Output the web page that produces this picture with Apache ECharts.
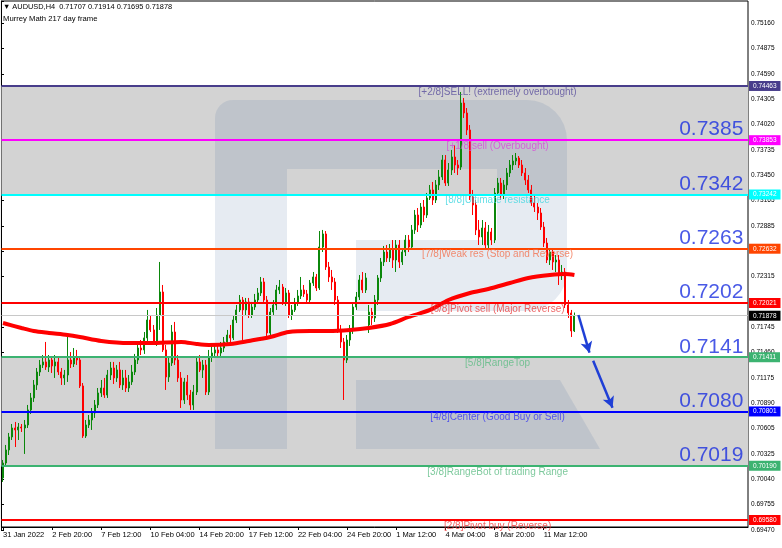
<!DOCTYPE html>
<html><head><meta charset="utf-8">
<script src="https://cdn.jsdelivr.net/npm/echarts/dist/echarts.min.js"></script>
<style>html,body{margin:0;padding:0;background:#fff}#c{width:782px;height:548px}</style>
</head><body><div id="c"></div>
<script>
const tickLabels = ['31 Jan 2022','2 Feb 20:00','7 Feb 12:00','10 Feb 04:00','14 Feb 20:00','17 Feb 12:00','22 Feb 04:00','24 Feb 20:00','1 Mar 12:00','4 Mar 04:00','8 Mar 20:00','11 Mar 12:00'];
const priceTicks = [0.69470,0.69755,0.70040,0.70325,0.70605,0.70890,0.71175,0.71460,0.71745,0.72030,0.72315,0.72600,0.72885,0.73165,0.73450,0.73735,0.74020,0.74305,0.74590,0.74875,0.75160];
// [open, close, low, high]
const candles = [
[0.70053,0.70221,0.70008,0.70255],[0.70221,0.70368,0.70188,0.70424],[0.70368,0.70514,0.70311,0.70559],[0.70514,0.70615,0.70480,0.70660],
[0.70615,0.70593,0.70401,0.70683],[0.70593,0.70626,0.70480,0.70671],[0.70626,0.70615,0.70570,0.70660],[0.70615,0.70649,0.70323,0.70705],
[0.70649,0.70818,0.70615,0.70874],[0.70818,0.70953,0.70773,0.71009],[0.70953,0.71099,0.70908,0.71155],[0.71099,0.71245,0.71043,0.71290],
[0.71245,0.71324,0.71200,0.71380],[0.71324,0.71358,0.71290,0.71436],[0.71358,0.71301,0.71268,0.71583],[0.71301,0.71380,0.71245,0.71436],
[0.71380,0.71313,0.71234,0.71425],[0.71313,0.71358,0.71178,0.71436],[0.71358,0.71245,0.71211,0.71403],[0.71245,0.71178,0.71099,0.71290],
[0.71178,0.71211,0.71099,0.71268],[0.71211,0.71380,0.71133,0.71673],[0.71380,0.71335,0.71290,0.71470],[0.71335,0.71414,0.71301,0.71515],
[0.71414,0.71380,0.71324,0.71493],[0.71380,0.71088,0.71065,0.71414],[0.71088,0.70525,0.70503,0.71121],[0.70525,0.70649,0.70503,0.70705],
[0.70649,0.70705,0.70615,0.70761],[0.70705,0.70784,0.70593,0.70840],[0.70784,0.70874,0.70728,0.70930],[0.70874,0.71009,0.70840,0.71065],
[0.71009,0.71065,0.70964,0.71155],[0.71065,0.70986,0.70953,0.71178],[0.70986,0.71211,0.70953,0.71268],[0.71211,0.71290,0.71155,0.71358],
[0.71290,0.71178,0.71110,0.71358],[0.71178,0.71268,0.71133,0.71324],[0.71268,0.71099,0.71065,0.71358],[0.71099,0.71178,0.71043,0.71268],
[0.71178,0.71065,0.71020,0.71268],[0.71065,0.71133,0.71020,0.71211],[0.71133,0.71245,0.71099,0.71324],[0.71245,0.71380,0.71211,0.71448],
[0.71380,0.71515,0.71335,0.71549],[0.71515,0.71493,0.71436,0.71605],[0.71493,0.71628,0.71448,0.71695],[0.71628,0.71830,0.71583,0.71943],
[0.71830,0.71718,0.71695,0.71886],[0.71718,0.71583,0.71549,0.71774],[0.71583,0.71886,0.71538,0.71965],[0.71886,0.72145,0.71718,0.72483],
[0.72145,0.71493,0.71470,0.72224],[0.71493,0.71189,0.71043,0.71549],[0.71189,0.71346,0.71133,0.71403],[0.71346,0.71695,0.71313,0.71774],
[0.71695,0.71380,0.71324,0.71808],[0.71380,0.71178,0.71133,0.71436],[0.71178,0.70930,0.70840,0.71245],[0.70930,0.71133,0.70885,0.71178],
[0.71133,0.70986,0.70930,0.71211],[0.70986,0.70874,0.70818,0.71043],[0.70874,0.71020,0.70818,0.71099],[0.71020,0.71358,0.70986,0.71403],
[0.71358,0.71268,0.71245,0.71436],[0.71268,0.71324,0.71178,0.71380],[0.71324,0.71020,0.70986,0.71380],[0.71020,0.71414,0.70986,0.71493],
[0.71414,0.71459,0.71358,0.71549],[0.71459,0.71493,0.71402,0.71571],[0.71493,0.71459,0.71414,0.71549],[0.71459,0.71515,0.71425,0.71583],
[0.71515,0.71583,0.71470,0.71639],[0.71583,0.71661,0.71549,0.71718],[0.71661,0.71628,0.71549,0.71774],[0.71628,0.71830,0.71605,0.71886],
[0.71830,0.71943,0.71796,0.71999],[0.71943,0.72055,0.71920,0.72111],[0.72055,0.71943,0.71605,0.72089],[0.71943,0.72033,0.71886,0.72078],
[0.72033,0.71886,0.71853,0.72078],[0.71886,0.71976,0.71853,0.72033],[0.71976,0.72055,0.71943,0.72123],[0.72055,0.72134,0.72021,0.72190],
[0.72134,0.72258,0.72100,0.72314],[0.72258,0.72055,0.72033,0.72303],[0.72055,0.71684,0.71650,0.72100],[0.71684,0.71920,0.71650,0.71965],
[0.71920,0.71999,0.71875,0.72055],[0.71999,0.72168,0.71943,0.72224],[0.72168,0.72201,0.72123,0.72280],[0.72201,0.72033,0.71999,0.72235],
[0.72033,0.72134,0.71988,0.72190],[0.72134,0.71886,0.71853,0.72168],[0.71886,0.71943,0.71830,0.71999],[0.71943,0.72021,0.71920,0.72078],
[0.72021,0.72100,0.71988,0.72168],[0.72100,0.72168,0.72066,0.72314],[0.72168,0.72123,0.72089,0.72224],[0.72123,0.72055,0.72021,0.72168],
[0.72055,0.72246,0.72021,0.72280],[0.72246,0.72314,0.72213,0.72370],[0.72314,0.72190,0.72156,0.72348],[0.72190,0.72651,0.72168,0.72831],
[0.72651,0.72798,0.72595,0.72843],[0.72798,0.72426,0.72393,0.72831],[0.72426,0.72314,0.72258,0.72483],[0.72314,0.72258,0.72168,0.72393],
[0.72258,0.72055,0.71999,0.72303],[0.72055,0.71718,0.71684,0.72100],[0.71718,0.71583,0.71515,0.71774],[0.71583,0.71380,0.70930,0.71628],
[0.71380,0.71605,0.71346,0.71661],[0.71605,0.71718,0.71538,0.71774],[0.71718,0.71976,0.71673,0.72021],[0.71976,0.72089,0.71943,0.72145],
[0.72089,0.72280,0.72055,0.72336],[0.72280,0.72168,0.72134,0.72370],[0.72168,0.72303,0.72134,0.72359],[0.71774,0.71920,0.71684,0.71999],
[0.71920,0.71853,0.71774,0.71965],[0.71853,0.72055,0.71808,0.72111],[0.72055,0.72303,0.71999,0.72336],[0.72303,0.72483,0.72258,0.72528],
[0.72483,0.72595,0.72438,0.72663],[0.72595,0.72528,0.72483,0.72674],[0.72528,0.72618,0.72483,0.72685],[0.72618,0.72505,0.72415,0.72730],
[0.72505,0.72674,0.72370,0.72730],[0.72674,0.72483,0.72415,0.72730],[0.72483,0.72595,0.72449,0.72640],[0.72595,0.72730,0.72550,0.72786],
[0.72730,0.72651,0.72595,0.72786],[0.72651,0.72843,0.72618,0.72899],[0.72843,0.73011,0.72798,0.73068],[0.73011,0.72899,0.72820,0.73090],
[0.72899,0.73101,0.72865,0.73146],[0.73101,0.73011,0.72933,0.73180],[0.73011,0.73203,0.72978,0.73259],[0.73203,0.73293,0.73180,0.73349],
[0.73293,0.73180,0.73124,0.73383],[0.73180,0.73349,0.73146,0.73405],[0.73349,0.73439,0.73293,0.73518],[0.73439,0.73630,0.73405,0.73686],
[0.73630,0.73371,0.73338,0.73686],[0.73371,0.73518,0.73338,0.73596],[0.73518,0.73664,0.73461,0.73743],[0.73664,0.73574,0.73484,0.73799],
[0.73574,0.73540,0.73461,0.73630],[0.73551,0.74271,0.73518,0.74395],[0.74271,0.74159,0.74103,0.74328],[0.74159,0.73968,0.73911,0.74215],
[0.73968,0.73214,0.73180,0.74024],[0.73214,0.73124,0.73011,0.73293],[0.73124,0.72843,0.72786,0.73180],[0.72843,0.72764,0.72674,0.72955],
[0.72764,0.72865,0.72674,0.72955],[0.72865,0.72674,0.72618,0.72933],[0.72674,0.72820,0.72640,0.72899],[0.72820,0.72730,0.72674,0.72865],
[0.72730,0.73259,0.72696,0.73315],[0.73259,0.73371,0.73225,0.73428],[0.73371,0.73236,0.73180,0.73428],[0.73236,0.73349,0.73191,0.73405],
[0.73349,0.73484,0.73293,0.73540],[0.73484,0.73574,0.73439,0.73630],[0.73574,0.73619,0.73518,0.73686],[0.73619,0.73652,0.73574,0.73709],
[0.73652,0.73574,0.73540,0.73675],[0.73574,0.73484,0.73450,0.73630],[0.73484,0.73405,0.73349,0.73540],[0.73405,0.73293,0.73259,0.73461],
[0.73293,0.73146,0.73113,0.73349],[0.73146,0.73101,0.73045,0.73236],[0.73101,0.73034,0.72955,0.73146],[0.73034,0.72876,0.72843,0.73090],
[0.72876,0.72696,0.72651,0.72933],[0.72696,0.72505,0.72471,0.72753],[0.72505,0.72595,0.72449,0.72640],[0.72595,0.72483,0.72393,0.72640],
[0.72483,0.72505,0.72370,0.72561],[0.72505,0.72336,0.72224,0.72561],[0.72336,0.72370,0.72280,0.72449],[0.72370,0.71999,0.71965,0.72415],
[0.71999,0.71909,0.71853,0.72055],[0.71909,0.71707,0.71639,0.71943],[0.71707,0.71878,0.71695,0.71914]
];
// moving average read at sampled bars: [bar index, value]
const maPoints = [[0,0.71796],[6,0.71740],[10,0.71706],[15,0.71684],[21,0.71661],[25,0.71639],[32,0.71594],[41,0.71571],[48,0.71571],[58,0.71583],[63,0.71560],[67,0.71549],[74,0.71560],[80,0.71594],[87,0.71639],[93,0.71695],[100,0.71706],[106,0.71706],[113,0.71718],[119,0.71740],[126,0.71785],[132,0.71864],[139,0.71943],[145,0.72055],[152,0.72134],[158,0.72179],[165,0.72246],[171,0.72303],[178,0.72336],[183,0.72348],[186,0.72336]];
const levelValues = [0.74463,0.73853,0.73242,0.72632,0.72021,0.71411,0.70801,0.70190,0.69580];
const levelNames = ['[+2/8]SELL! (extremely overbought)','[+1/8]sell (Overbought)','[8/8]Ultimate resistance','[7/8]Weak res (Stop and Reverse)','[6/8]Pivot sell (Major Reverse)','[5/8]RangeTop','[4/8]Center (Good Buy or Sell)','[3/8]RangeBot of trading Range','[2/8]Pivot buy (Reverse)'];
const bigLabels = ['0.7385','0.7342','0.7263','0.7202','0.7141','0.7080','0.7019'];
const bigLabelLevels = [0.73853,0.73242,0.72632,0.72021,0.71411,0.70801,0.70190];
const grayZones = [[0.74463,0.73242],[0.71411,0.70190]];
const lastPrice = 0.71878;
const arrows = [[[187.3,0.71886],[190.9,0.71462]],[[192.1,0.71372],[198.4,0.70843]]];

// ---- styles / layout ----
const lineColors = ['#483D8B','#FF00FF','#00FFFF','#FF4500','#FF0000','#3CB371','#0000FF','#3CB371','#FF0000'];
const textColors = ['#5a4f9e','#d84ad8','#3fd6e0','#f2704e','#ea3a3a','#5dbb83','#3a3af0','#5dbb83','#f03a3a'];
const NCAT = 243;
const GRID_H = 526;
const Y_MAX = 0.75419, Y_MIN = 0.69501;
const pxPerPrice = GRID_H / (Y_MAX - Y_MIN);
const tickStep = 0.00285;
const labelGridH = (Y_MAX - priceTicks[0]) * pxPerPrice;
const uMax = (Y_MAX - priceTicks[0]) / tickStep;
const FONT = '"Liberation Sans", Arial, sans-serif';

// watermark outline helper (decoration only)
function arc(cx, cy, r, a0, a1) {
  const pts = [];
  for (let k = 0; k <= 8; k++) {
    const a = a0 + (a1 - a0) * k / 8;
    pts.push([cx + r * Math.cos(a), cy + r * Math.sin(a)]);
  }
  return pts;
}
const PI = Math.PI;
const rShape = [[215,449]]
  .concat(arc(233,118,18,PI,1.5*PI))
  .concat(arc(527,140,40,1.5*PI,2*PI))
  .concat(arc(527,271,40,0,0.5*PI))
  .concat([[356,311],[356,240],[497,240],[497,169],[287,169],[287,449]]);
const legShape = [[356,380],[560,380],[600,449],[356,449]];

const cats = Array.from({length: NCAT}, (_, i) => String(i));
const showTick = (idx) => idx % 16 === 0 && idx / 16 < tickLabels.length;

const chart = echarts.init(document.getElementById('c'), null, {renderer: 'canvas'});
const last = candles[candles.length - 1];
const header = '\u25BC AUDUSD,H4  ' + [last[0], last[3], last[2], last[1]].map(v => v.toFixed(5)).join(' ');

const levelMarks = levelValues.map((v, i) => ({
  yAxis: v,
  lineStyle: {color: lineColors[i], width: 2, type: 'solid'},
  label: {backgroundColor: lineColors[i]}
}));
levelMarks.push({yAxis: lastPrice, lineStyle: {color: '#c8c8c8', width: 1, type: 'solid'}, label: {backgroundColor: '#000'}});

chart.setOption({
  animation: false,
  textStyle: {fontFamily: FONT},
  grid: [
    {left: 1, right: 34, top: 1, height: GRID_H, show: true, borderColor: '#000', borderWidth: 1, backgroundColor: 'transparent'},
    {left: 1, right: 34, top: 1, height: labelGridH}
  ],
  graphic: [
    {type: 'polygon', z: 1, silent: true, shape: {points: rShape}, style: {fill: 'rgba(62,98,155,0.13)'}},
    {type: 'polygon', z: 1, silent: true, shape: {points: legShape}, style: {fill: 'rgba(62,98,155,0.13)'}},
    {type: 'text', z: 10, left: 3, top: 3, style: {text: header, font: '7.4px ' + FONT, fill: '#000'}},
    {type: 'text', z: 10, left: 3, top: 15, style: {text: 'Murrey Math 217 day frame', font: '7.7px ' + FONT, fill: '#000'}}
  ],
  xAxis: [
    {type: 'category', gridIndex: 0, data: cats, boundaryGap: true,
     axisLine: {show: true, lineStyle: {color: '#000', width: 1}},
     axisTick: {show: true, alignWithLabel: true, interval: showTick, length: 3, lineStyle: {color: '#000'}},
     axisLabel: {show: true, interval: showTick, align: 'left', margin: 4, fontSize: 7.5, color: '#000', fontFamily: FONT,
       formatter: (v, idx) => (showTick(idx) ? tickLabels[idx / 16] : '')},
     splitLine: {show: false}},
    {type: 'value', gridIndex: 1, show: false, min: 0, max: 1},
    {type: 'value', gridIndex: 0, show: false, min: -0.5, max: NCAT - 0.5}
  ],
  yAxis: [
    {type: 'value', gridIndex: 0, show: false, min: Y_MIN, max: Y_MAX, splitLine: {show: false}},
    {type: 'value', gridIndex: 1, position: 'right', min: 0, max: uMax, interval: 1,
     axisLine: {show: true, lineStyle: {color: '#000', width: 1}},
     axisTick: {show: true, length: 3, lineStyle: {color: '#000'}},
     splitLine: {show: false},
     axisLabel: {show: true, margin: 3, fontSize: 6.5, color: '#000', fontFamily: FONT,
       formatter: (v) => {const r = Math.round(v); return (Math.abs(v - r) < 1e-6 && priceTicks[r] !== undefined) ? priceTicks[r].toFixed(5) : '';}}}
  ],
  series: [
    {type: 'candlestick', name: 'AUDUSD', xAxisIndex: 0, yAxisIndex: 0, z: 2,
     data: candles, barWidth: 1.5,
     itemStyle: {color: '#0b870b', color0: '#ff0000', borderColor: '#0b870b', borderColor0: '#ff0000', borderWidth: 1},
     markArea: {silent: true, z: 0.5, precision: 5, itemStyle: {color: '#d3d3d3'},
       data: grayZones.map(z => [{yAxis: z[0]}, {yAxis: z[1]}])},
     markLine: {silent: true, z: 4, precision: 5, symbol: ['none', 'none'],
       label: {show: true, position: 'end', distance: 1, color: '#fff', fontSize: 6.5, lineHeight: 8, padding: [1, 4, 1, 4], fontFamily: FONT,
         formatter: (p) => Number(p.value).toFixed(5)},
       data: levelMarks}
    },
    {type: 'line', name: 'MA', xAxisIndex: 2, yAxisIndex: 0, z: 3, data: maPoints, showSymbol: false, smooth: 0.3,
     lineStyle: {color: '#ff0000', width: 4}},
    {type: 'line', name: 'arrows', xAxisIndex: 2, yAxisIndex: 0, z: 5, data: [],
     markLine: {silent: true, precision: 5, symbol: ['none', 'arrow'], symbolSize: [9, 11], label: {show: false},
       lineStyle: {color: '#1f3fd6', width: 2.5, type: 'solid'},
       data: arrows.map(a => [{coord: a[0]}, {coord: a[1]}])}},
    {type: 'scatter', name: 'levelNames', xAxisIndex: 2, yAxisIndex: 0, z: 6, symbolSize: 0, silent: true,
     data: levelValues.map((v, i) => ({value: [161, v], label: {color: textColors[i]}})),
     label: {show: true, position: 'bottom', distance: 1, fontSize: 10, fontFamily: FONT,
       formatter: (p) => levelNames[p.dataIndex]}},
    {type: 'scatter', name: 'bigLabels', xAxisIndex: 2, yAxisIndex: 0, z: 6, symbolSize: 0, silent: true,
     data: bigLabelLevels.map(v => [241, v]),
     label: {show: true, position: 'top', align: 'right', distance: 0, fontSize: 21, color: '#1c30e0', fontFamily: FONT,
       formatter: (p) => bigLabels[p.dataIndex]}},
    {type: 'scatter', name: 'dummy', xAxisIndex: 1, yAxisIndex: 1, data: [], silent: true}
  ]
});
</script></body></html>
